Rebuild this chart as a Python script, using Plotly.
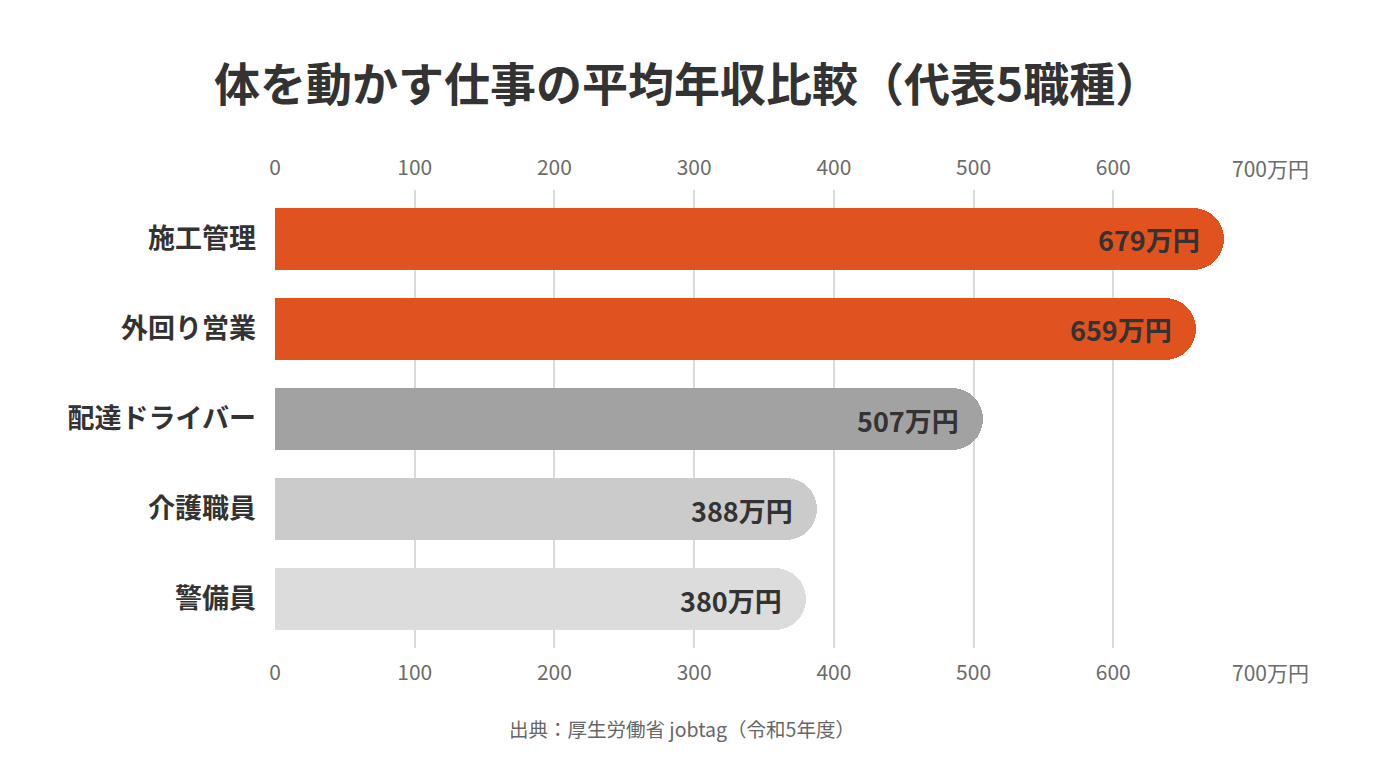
import plotly.graph_objects as go

categories = ["施工管理", "外回り営業", "配達ドライバー", "介護職員", "警備員"]
values = [679, 659, 507, 388, 380]
value_labels = ["679万円", "659万円", "507万円", "388万円", "380万円"]
bar_colors = ["#E0521E", "#E0521E", "#A2A2A2", "#CBCBCB", "#DCDCDC"]
tick_vals = [0, 100, 200, 300, 400, 500, 600, 700]
tick_text = ["0", "100", "200", "300", "400", "500", "600", "700万円"]

FONT = "Noto Sans CJK JP"
PLOT_TOP, PLOT_BOTTOM, PLOT_LEFT, PLOT_W = 190, 648, 275, 978
PLOT_H = PLOT_BOTTOM - PLOT_TOP

fig = go.Figure()
fig.add_trace(go.Bar(
    x=values, y=categories, orientation="h",
    marker=dict(color=bar_colors, cornerradius=31, line=dict(width=0)),
    width=0.69, hoverinfo="skip", xaxis="x", yaxis="y",
))
fig.add_trace(go.Scatter(
    x=[0, 700], y=[categories[0], categories[0]], mode="markers",
    marker=dict(opacity=0), xaxis="x2", yaxis="y", hoverinfo="skip", showlegend=False,
))

annotations = []
for v, c, t in zip(values, categories, value_labels):
    annotations.append(dict(
        x=v, y=c, xref="x", yref="y", text=f"<b>{t}</b>", showarrow=False,
        xanchor="right", xshift=-22, yshift=-1,
        font=dict(family=FONT, size=27, color="#333333"),
    ))

# last tick label (with unit) drawn slightly right of its gridline, as in the reference
tick_font = dict(family=FONT, size=21, color="#6B6B6B")
for ypix in (168, 672):
    annotations.append(dict(
        x=tick_vals[-1], xref="x", y=1 - (ypix - PLOT_TOP) / PLOT_H, yref="paper",
        text=tick_text[-1], showarrow=False, xanchor="center", yanchor="middle",
        xshift=17, font=tick_font,
    ))

annotations.append(dict(
    text="<b>体を動かす仕事の平均年収比較（代表5職種）</b>",
    x=(687 - PLOT_LEFT) / PLOT_W, y=1 + (PLOT_TOP - 81) / PLOT_H,
    xref="paper", yref="paper", showarrow=False, xanchor="center", yanchor="middle",
    font=dict(family=FONT, size=46, color="#333333"),
))
annotations.append(dict(
    text="出典：厚生労働省 jobtag（令和5年度）",
    x=(682 - PLOT_LEFT) / PLOT_W, y=-(728 - PLOT_BOTTOM) / PLOT_H,
    xref="paper", yref="paper", showarrow=False, xanchor="center", yanchor="middle",
    font=dict(family=FONT, size=19.5, color="#666666"),
))

shown_text = tick_text[:-1] + [""]
axis_common = dict(
    range=[0, 700], tickvals=tick_vals, ticktext=shown_text,
    showgrid=True, gridcolor="#DADADA", gridwidth=1.5, zeroline=False,
    showline=False, ticks="", tickfont=tick_font, fixedrange=True,
)
fig.update_layout(
    width=1376, height=768,
    paper_bgcolor="white", plot_bgcolor="white",
    margin=dict(l=PLOT_LEFT, r=1376 - PLOT_LEFT - PLOT_W, t=PLOT_TOP, b=768 - PLOT_BOTTOM),
    showlegend=False,
    bargap=0,
    xaxis=dict(side="top", ticklabelstandoff=10, **axis_common),
    xaxis2=dict(side="bottom", overlaying="x", ticklabelstandoff=10, **axis_common),
    yaxis=dict(
        range=[4.544, -0.544], showgrid=False, zeroline=False, ticks="",
        ticklabelstandoff=18, showline=False,
        tickfont=dict(family=FONT, size=27, color="#333333", weight="bold"),
    ),
    annotations=annotations,
)

fig.write_html("out.html")
